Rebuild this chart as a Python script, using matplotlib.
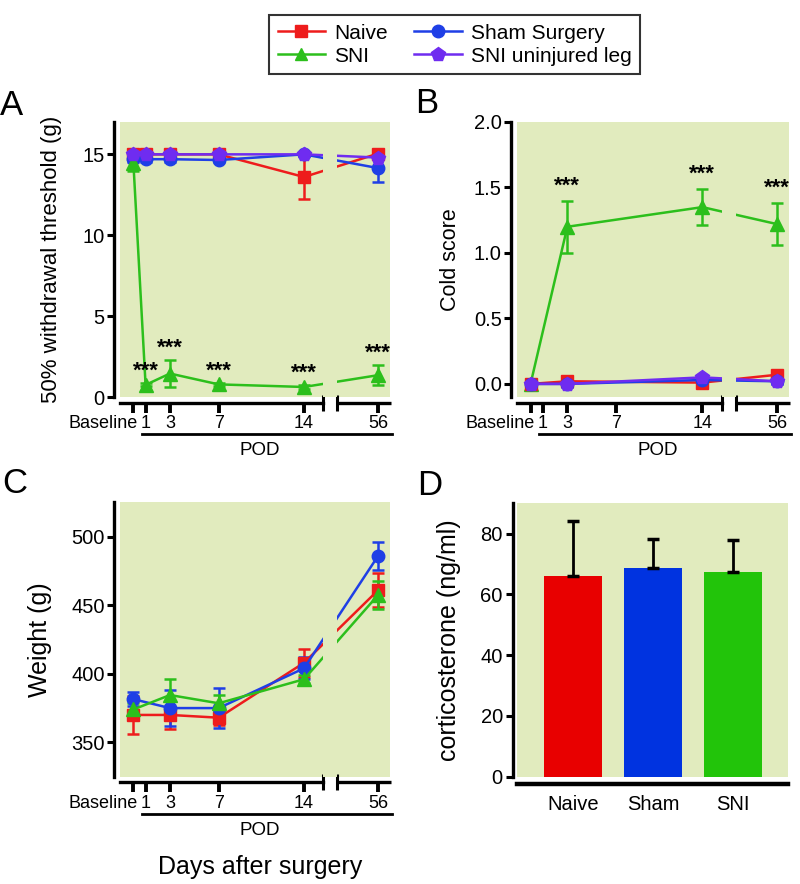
import numpy as np
import matplotlib
matplotlib.use("Agg")
import matplotlib.pyplot as plt
from matplotlib.lines import Line2D
from matplotlib.ticker import FixedLocator, FormatStrFormatter
from matplotlib.transforms import ScaledTranslation

plt.rcParams["font.family"] = ["Liberation Sans", "DejaVu Sans"]

# ---------------- data ----------------
DAY_LABELS = ["Baseline", "1", "3", "7", "14", "56"]
TICK_DAYS = [0, 1, 3, 7, 14, 56]

# A: von Frey, 50% withdrawal threshold (g)
a_days = [0, 1, 3, 7, 14, 56]
a_naive = [15.0, 15.0, 15.0, 15.0, 13.6, 15.05]
a_naive_err = [0.1, 0.1, 0.1, 0.1, 1.35, 0.15]
a_sham = [14.7, 14.7, 14.7, 14.65, 15.0, 14.15]
a_sham_err = [0.15, 0.15, 0.15, 0.15, 0.1, 0.85]
a_sni = [14.45, 0.75, 1.45, 0.78, 0.62, 1.35]
a_sni_err = [0.45, 0.1, 0.83, 0.1, 0.1, 0.6]
a_unin = [15.0, 15.0, 15.0, 15.0, 15.0, 14.8]
a_unin_err = [0.05, 0.05, 0.05, 0.05, 0.05, 0.1]
a_star_days = [1, 3, 7, 14, 56]

# B: acetone cold score
b_days = [0, 3, 14, 56]
b_naive = [0.0, 0.02, 0.01, 0.07]
b_sham = [0.0, 0.0, 0.03, 0.02]
b_sni = [0.0, 1.2, 1.35, 1.22]
b_sni_err = [0.0, 0.2, 0.14, 0.16]
b_unin = [0.0, 0.0, 0.05, 0.02]
b_small_err = [0.01, 0.02, 0.02, 0.02]
b_star_days = [3, 14, 56]

# C: body weight (g)
c_days = [0, 3, 7, 14, 56]
c_naive = [370, 370, 368, 408, 461]
c_naive_err = [14, 10, 5, 10, 12.5]
c_sham = [381.5, 375, 375, 404, 486]
c_sham_err = [5, 13, 14.5, 8, 10]
c_sni = [374, 384.5, 378.5, 396, 457.5]
c_sni_err = [5, 12, 6, 3, 10]

# D: corticosterone (ng/ml)
d_groups = ["Naive", "Sham", "SNI"]
d_vals = [65.9, 68.6, 67.5]
d_err = [18.2, 9.7, 10.3]

# ---------------- style ----------------
BG = "#e1ebbe"
RED, BLUE, GREEN, PURPLE = "#ee1c1c", "#1f3fe6", "#2cbf1c", "#6f2cf0"
BAR_COLORS = ["#e80000", "#0033e0", "#22c40a"]
SPINE_LW = 2.4

# broken x axis: days after 14 are compressed
K = 0.145
BREAK_S = (15.56, 16.71)
XLIM_S = (-1.1, 21.06)


def fwd(d):
    d = np.asarray(d, dtype=float)
    return np.where(d <= 14, d, 14 + (d - 14) * K)


def inv(s):
    s = np.asarray(s, dtype=float)
    return np.where(s <= 14, s, 14 + (s - 14) / K)


fig = plt.figure(figsize=(8, 8.84), dpi=100)


def time_axes(rect, ylim, yticks, ylabel, ylab_size, ylab_x):
    ax = fig.add_axes(rect)
    ax.set_facecolor(BG)
    ax.set_xscale("function", functions=(fwd, inv))
    x0, x1 = float(inv(XLIM_S[0])), float(inv(XLIM_S[1]))
    b0, b1 = float(inv(BREAK_S[0])), float(inv(BREAK_S[1]))
    ax.set_xlim(x0, x1)
    ax.set_ylim(*ylim)
    for s in ("top", "right"):
        ax.spines[s].set_visible(False)
    for s in ("left", "bottom"):
        ax.spines[s].set_position(("outward", 4))
        ax.spines[s].set_linewidth(SPINE_LW)
    ax.spines["bottom"].set_bounds(x0, b0)
    off = ax.get_xaxis_transform() + ScaledTranslation(0, -4 / 72, fig.dpi_scale_trans)
    ax.plot([b1, x1 + 0.3], [0, 0], transform=off, color="k", lw=SPINE_LW,
            solid_capstyle="butt", clip_on=False)
    ax.axvspan(b0, b1, color=BG, lw=0, zorder=6)

    ax.set_xticks(TICK_DAYS, DAY_LABELS)
    ax.xaxis.set_minor_locator(FixedLocator([b0, b1]))
    ax.tick_params(axis="x", which="major", length=7, width=2.8, labelsize=13, pad=2)
    ax.tick_params(axis="x", which="minor", direction="inout", length=11, width=2.2)
    base_lbl = ax.get_xticklabels()[0]
    base_lbl.set_ha("right")
    base_lbl.set_transform(base_lbl.get_transform()
                           + ScaledTranslation(3 / 72, 0, fig.dpi_scale_trans))
    ax.set_yticks(yticks)
    ax.tick_params(axis="y", length=5, width=2.2, labelsize=14.5, pad=2)
    ax.set_ylabel(ylabel, fontsize=ylab_size)
    ax.yaxis.set_label_coords(ylab_x, 0.5)

    # POD underline and label
    ax.plot([0.081, 1.008], [-0.135, -0.135], transform=ax.transAxes, color="k",
            lw=2, clip_on=False)
    ax.text(0.519, -0.195, "POD", transform=ax.transAxes, ha="center", va="center",
            fontsize=13.5)
    return ax


def series(ax, days, vals, err, color, marker, ms):
    ax.errorbar(days, vals, yerr=err, color=color, marker=marker, ms=ms, lw=1.8,
                elinewidth=1.8, capsize=4, capthick=1.8, zorder=3)


def stars(ax, days_all, vals, err, star_days, dy):
    for d, v, e in zip(days_all, vals, err):
        if d in star_days:
            ax.annotate("***", xy=(d, v + e), xytext=(0, dy), textcoords="offset points",
                        ha="center", va="bottom", fontsize=16, fontweight="bold",
                        zorder=7)


# ---- A ----
axA = time_axes([0.15, 0.5509, 0.3375, 0.3111], (0, 17), [0, 5, 10, 15],
                "50% withdrawal threshold (g)", 16, -0.215)
series(axA, a_days, a_naive, a_naive_err, RED, "s", 8)
series(axA, a_days, a_sham, a_sham_err, BLUE, "o", 9)
series(axA, a_days, a_sni, a_sni_err, GREEN, "^", 9.5)
series(axA, a_days, a_unin, a_unin_err, PURPLE, "p", 10)
stars(axA, a_days, a_sni, a_sni_err, a_star_days, 1)

# ---- B ----
axB = time_axes([0.6463, 0.5509, 0.34, 0.3111], (-0.1, 2.0), [0.0, 0.5, 1.0, 1.5, 2.0],
                "Cold score", 15.5, -0.206)
axB.yaxis.set_major_formatter(FormatStrFormatter("%.1f"))
series(axB, b_days, b_sni, b_sni_err, GREEN, "^", 9.5)
series(axB, b_days, b_naive, b_small_err, RED, "s", 8)
series(axB, b_days, b_sham, b_small_err, BLUE, "o", 9)
series(axB, b_days, b_unin, b_small_err, PURPLE, "p", 10)
stars(axB, b_days, b_sni, b_sni_err, b_star_days, 3)

# ---- C ----
axC = time_axes([0.15, 0.1214, 0.3375, 0.3104], (325, 525), [350, 400, 450, 500],
                "Weight (g)", 18, -0.252)
series(axC, c_days, c_naive, c_naive_err, RED, "s", 8)
series(axC, c_days, c_sham, c_sham_err, BLUE, "o", 9)
series(axC, c_days, c_sni, c_sni_err, GREEN, "^", 9.5)
axC.text(0.519, -0.328, "Days after surgery", transform=axC.transAxes, ha="center",
         va="center", fontsize=18)

# ---- D ----
axD = fig.add_axes([0.6459, 0.1214, 0.3395, 0.3093])
axD.set_facecolor(BG)
xpos = np.arange(len(d_groups))
axD.bar(xpos, d_vals, width=0.72, color=BAR_COLORS,
        yerr=[np.zeros(len(d_vals)), d_err],
        error_kw=dict(ecolor="k", elinewidth=2, capsize=4, capthick=2.5))
axD.set_xlim(-0.70, 2.69)
axD.set_ylim(0, 90)
axD.set_yticks([0, 20, 40, 60, 80])
axD.set_xticks(xpos, d_groups)
for s in ("top", "right"):
    axD.spines[s].set_visible(False)
axD.spines["left"].set_position(("outward", 3))
axD.spines["bottom"].set_position(("outward", 5))
axD.spines["left"].set_linewidth(SPINE_LW)
axD.spines["bottom"].set_linewidth(3.2)
axD.tick_params(axis="x", length=0, labelsize=14.5, pad=8)
axD.tick_params(axis="y", length=5, width=2.2, labelsize=14.5, pad=2)
axD.set_ylabel("corticosterone (ng/ml)", fontsize=18)
axD.yaxis.set_label_coords(-0.205, 0.5)

# ---- panel letters ----
for x, y, letter in [(0, 115, "A"), (415, 113, "B"), (2, 493, "C"), (417, 495, "D")]:
    fig.text(x / 800, 1 - y / 884, letter, fontsize=25, va="baseline", ha="left")

# ---- legend ----
handles = [
    Line2D([], [], color=RED, marker="s", ms=8, lw=1.8),
    Line2D([], [], color=GREEN, marker="^", ms=9, lw=1.8),
    Line2D([], [], color=BLUE, marker="o", ms=9, lw=1.8),
    Line2D([], [], color=PURPLE, marker="p", ms=10, lw=1.8),
]
labels = ["Naive", "SNI", "Sham Surgery", "SNI uninjured leg"]
leg = fig.legend(handles, labels, ncol=2, loc="center",
                 bbox_to_anchor=(454.5 / 800, 1 - 44.7 / 884), frameon=True,
                 fancybox=False, edgecolor="k", fontsize=15, handlelength=2.3,
                 columnspacing=1.3, borderpad=0.4, labelspacing=0.2,
                 handletextpad=0.4)
leg.get_frame().set_linewidth(1.5)

fig.savefig("out.png", dpi=100)
